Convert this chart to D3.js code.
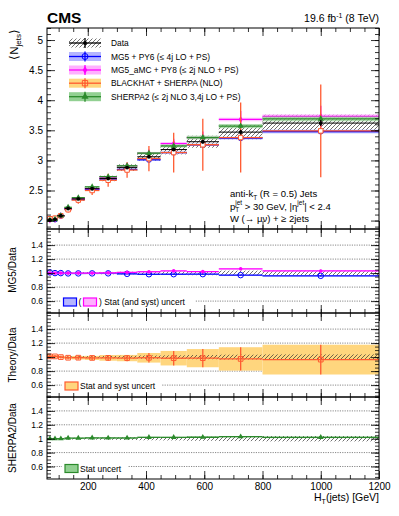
<!DOCTYPE html>
<html>
<head>
<meta charset="utf-8">
<script src="https://cdnjs.cloudflare.com/ajax/libs/d3/7.8.5/d3.min.js"></script>
<style>
  body { margin: 0; background: #fff; }
  text { font-family: "Liberation Sans", Arial, sans-serif; fill: #000; }
</style>
</head>
<body>
<div id="chart"></div>
<script>
// HT(jets) bins [GeV]
const binEdges = [60, 80, 95, 120, 145, 190, 240, 300, 370, 450, 540, 650, 800, 1200];

// measured <N_jets>
const dataMean = [2.01, 2.02, 2.08, 2.20, 2.36, 2.53, 2.70, 2.88, 3.06, 3.18, 3.31, 3.47, 3.62];
const dataStat = [0.005, 0.005, 0.005, 0.005, 0.006, 0.007, 0.009, 0.012, 0.016, 0.022, 0.03, 0.04, 0.05];
const dataSyst = [0.02, 0.02, 0.02, 0.025, 0.03, 0.035, 0.045, 0.055, 0.07, 0.08, 0.10, 0.12, 0.14];

// predictions
const mg5Mean = [2.03, 2.02, 2.08, 2.19, 2.35, 2.52, 2.69, 2.85, 3.01, 3.13, 3.26, 3.37, 3.48];
const mg5Err = [0.005, 0.005, 0.005, 0.006, 0.006, 0.007, 0.008, 0.01, 0.012, 0.015, 0.018, 0.022, 0.03];
const amcMean = [2.01, 2.02, 2.08, 2.20, 2.36, 2.53, 2.71, 2.91, 3.12, 3.28, 3.38, 3.68, 3.73];
const amcBandErr = [0.006, 0.006, 0.006, 0.007, 0.008, 0.009, 0.01, 0.012, 0.015, 0.02, 0.025, 0.03, 0.035];
const amcErr = [0.01, 0.01, 0.01, 0.015, 0.02, 0.025, 0.03, 0.04, 0.06, 0.08, 0.10, 0.14, 0.18];
const bhMean = [2.03, 2.04, 2.08, 2.18, 2.34, 2.50, 2.67, 2.84, 3.03, 3.13, 3.26, 3.38, 3.49];
const bhErr = [0.04, 0.04, 0.04, 0.045, 0.06, 0.075, 0.11, 0.13, 0.21, 0.33, 0.43, 0.58, 0.77];
const sherpaMean = [2.01, 2.02, 2.08, 2.22, 2.38, 2.56, 2.73, 2.91, 3.12, 3.24, 3.38, 3.57, 3.69];
const sherpaErr = [0.005, 0.005, 0.006, 0.007, 0.008, 0.01, 0.012, 0.015, 0.02, 0.025, 0.03, 0.035, 0.04];

const legendLabels = ["Data", "MG5 + PY6 (\u2264 4j LO + PS)", "MG5_aMC + PY8 (\u2264 2j NLO + PS)",
    "BLACKHAT + SHERPA (NLO)", "SHERPA2 (\u2264 2j NLO 3,4j LO + PS)"];
const xTicks = [200, 400, 600, 800, 1000, 1200];
const mainTicks = [2, 2.5, 3, 3.5, 4, 4.5, 5];
const ratioTicks = [0.6, 0.8, 1, 1.2, 1.4];

const blue = "#0000ff", blueBand = "#b4b4ff";
const mag = "#ff00ff", magBand = "#ffb0ff";
const orange = "#ff5a30", orangeBand = "#ffd67e";
const green = "#2b8a2b", greenBand = "#92d092";

const W = 399, H = 516;
const xLeft = 47, xRight = 379;

let svg = d3.select("#chart").append("svg").attr("width", W).attr("height", H);

let defs = svg.append("defs");
defs.append("pattern").attr("id", "hatch")
    .attr("patternUnits", "userSpaceOnUse").attr("width", 4).attr("height", 4)
    .append("path").attr("d", "M-1,1 l2,-2 M0,4 l4,-4 M3,5 l2,-2")
    .attr("stroke", "#333").attr("stroke-width", 0.7);
defs.append("clipPath").attr("id", "plotclip").append("rect")
    .attr("x", xLeft).attr("y", 0).attr("width", xRight - xLeft).attr("height", H);

let x = d3.scaleLinear().domain([60, 1200]).range([xLeft, xRight]);

let bins = binEdges.slice(0, -1).map(function (lo, i) {
    return { lo: lo, hi: binEdges[i + 1], c: (lo + binEdges[i + 1]) / 2, i: i };
});

function symbol(type, size) {
    return d3.symbol().type(type).size(size)();
}

function drawPanel(top, bottom, yDomain, major, minor, showX) {
    let y = d3.scaleLinear().domain(yDomain).range([bottom, top]);
    let g = svg.append("g");
    let axes = svg.append("g").attr("class", "axes");

    let xMinor = d3.range(100, 1200, 50);

    function clean(sel) {
        sel.select(".domain").remove();
        sel.selectAll("line").attr("stroke", "#000").attr("stroke-width", 0.8);
    }

    axes.append("g").attr("transform", "translate(" + xLeft + ",0)")
        .call(d3.axisLeft(y).tickValues(major).tickSize(-8).tickPadding(4).tickFormat(d3.format("~g")))
        .call(clean)
        .selectAll("text").attr("font-size", showX === "main" ? 10 : 8.5)
        .attr("font-family", "Liberation Sans, Arial, sans-serif");
    axes.append("g").attr("transform", "translate(" + xLeft + ",0)")
        .call(d3.axisLeft(y).tickValues(minor).tickSize(-4).tickFormat(""))
        .call(clean);
    axes.append("g").attr("transform", "translate(" + xRight + ",0)")
        .call(d3.axisRight(y).tickValues(major).tickSize(-8).tickFormat(""))
        .call(clean);
    axes.append("g").attr("transform", "translate(" + xRight + ",0)")
        .call(d3.axisRight(y).tickValues(minor).tickSize(-4).tickFormat(""))
        .call(clean);

    let bottomAxis = axes.append("g").attr("transform", "translate(0," + bottom + ")")
        .call(d3.axisBottom(x).tickValues(xTicks).tickSize(-8).tickPadding(4)
            .tickFormat(showX === true ? d3.format("d") : ""))
        .call(clean);
    bottomAxis.selectAll("text").attr("font-size", 10)
        .attr("font-family", "Liberation Sans, Arial, sans-serif");
    axes.append("g").attr("transform", "translate(0," + bottom + ")")
        .call(d3.axisBottom(x).tickValues(xMinor).tickSize(-4).tickFormat(""))
        .call(clean);
    axes.append("g").attr("transform", "translate(0," + top + ")")
        .call(d3.axisTop(x).tickValues(xTicks).tickSize(-8).tickFormat(""))
        .call(clean);
    axes.append("g").attr("transform", "translate(0," + top + ")")
        .call(d3.axisTop(x).tickValues(xMinor).tickSize(-4).tickFormat(""))
        .call(clean);

    axes.append("rect").attr("x", xLeft).attr("y", top)
        .attr("width", xRight - xLeft).attr("height", bottom - top)
        .attr("fill", "none").attr("stroke", "#000").attr("stroke-width", 1);

    return { g: g, y: y };
}

// band + horizontal line + error bar + marker for one series
function drawSeries(g, y, vals, errs, st) {
    let s = g.append("g").attr("clip-path", "url(#plotclip)");
    if (st.band) {
        s.selectAll(null).data(bins).enter().append("rect")
            .attr("x", function (d) { return x(d.lo); })
            .attr("width", function (d) { return x(d.hi) - x(d.lo); })
            .attr("y", function (d) { return y(vals[d.i] + errs[d.i]); })
            .attr("height", function (d) {
                return Math.max(1, y(vals[d.i] - errs[d.i]) - y(vals[d.i] + errs[d.i]));
            })
            .attr("fill", st.band).attr("opacity", st.bandOpacity || 1);
    }
    if (st.hatch) {
        s.selectAll(null).data(bins).enter().append("rect")
            .attr("x", function (d) { return x(d.lo); })
            .attr("width", function (d) { return x(d.hi) - x(d.lo); })
            .attr("y", function (d) { return y(vals[d.i] + errs[d.i]); })
            .attr("height", function (d) {
                return Math.max(1, y(vals[d.i] - errs[d.i]) - y(vals[d.i] + errs[d.i]));
            })
            .attr("fill", "url(#hatch)");
    }
    if (st.line) {
        s.selectAll(null).data(bins).enter().append("line")
            .attr("x1", function (d) { return x(d.lo); })
            .attr("x2", function (d) { return x(d.hi); })
            .attr("y1", function (d) { return y(vals[d.i]); })
            .attr("y2", function (d) { return y(vals[d.i]); })
            .attr("stroke", st.line).attr("stroke-width", st.lineWidth || 1.3);
    }
    if (st.bar) {
        let be = st.barErr || errs;
        s.selectAll(null).data(bins).enter().append("line")
            .attr("x1", function (d) { return x(d.c); })
            .attr("x2", function (d) { return x(d.c); })
            .attr("y1", function (d) { return y(vals[d.i] + be[d.i]); })
            .attr("y2", function (d) { return y(vals[d.i] - be[d.i]); })
            .attr("stroke", st.bar).attr("stroke-width", 1.3);
    }
    if (st.marker) {
        s.selectAll(null).data(bins).enter().append("path")
            .attr("transform", function (d) {
                return "translate(" + x(d.c) + "," + y(vals[d.i]) + ")";
            })
            .attr("d", symbol(st.marker, st.markerSize || 18))
            .attr("fill", st.markerFill).attr("stroke", st.markerStroke || "none")
            .attr("stroke-width", 1);
    }
}

// ---------- main panel ----------
let main = drawPanel(28, 229, [1.86, 5.2], mainTicks, d3.range(1.9, 5.21, 0.1), "main");

drawSeries(main.g, main.y, dataMean, dataSyst, { hatch: true });
drawSeries(main.g, main.y, mg5Mean, mg5Err, { band: blueBand, line: blue, bar: blue, marker: d3.symbolCircle, markerSize: 20, markerFill: "#fff", markerStroke: blue });
drawSeries(main.g, main.y, amcMean, amcBandErr, { band: magBand, bandOpacity: 0.7, line: mag, bar: mag, barErr: amcErr, marker: d3.symbolDiamond, markerSize: 14, markerFill: mag });
drawSeries(main.g, main.y, bhMean, bhErr, { line: orange, bar: orange, marker: d3.symbolSquare, markerSize: 20, markerFill: "#fff", markerStroke: orange });
drawSeries(main.g, main.y, sherpaMean, sherpaErr, { band: greenBand, bandOpacity: 0.7, line: green, bar: green, marker: d3.symbolTriangle, markerSize: 16, markerFill: green });
drawSeries(main.g, main.y, dataMean, dataStat, { line: "#000", lineWidth: 1, bar: "#000", marker: d3.symbolCircle, markerSize: 12, markerFill: "#000" });

// legend
let legend = svg.append("g");
let legendRows = [43, 56.5, 70, 83.2, 96.7];
let legendStyles = [
    { hatch: true, line: "#000", marker: d3.symbolCircle, size: 12, fill: "#000", stroke: "none" },
    { band: blueBand, line: blue, marker: d3.symbolCircle, size: 28, fill: "none", stroke: blue },
    { band: magBand, line: mag, marker: d3.symbolDiamond, size: 18, fill: mag, stroke: "none" },
    { band: orangeBand, line: orange, marker: d3.symbolSquare, size: 28, fill: "none", stroke: orange },
    { band: greenBand, line: green, marker: d3.symbolTriangle, size: 22, fill: green, stroke: "none" }
];
legendLabels.forEach(function (lab, i) {
    let st = legendStyles[i];
    let row = legend.append("g").attr("transform", "translate(0," + legendRows[i] + ")");
    row.append("rect").attr("x", 69).attr("y", -4.5).attr("width", 32).attr("height", 9)
        .attr("fill", st.hatch ? "url(#hatch)" : st.band);
    row.append("line").attr("x1", 69).attr("x2", 101).attr("y1", 0).attr("y2", 0)
        .attr("stroke", st.line).attr("stroke-width", 1.3);
    row.append("line").attr("x1", 85).attr("x2", 85).attr("y1", -5).attr("y2", 5)
        .attr("stroke", st.line).attr("stroke-width", 1.3);
    row.append("path").attr("transform", "translate(85,0)")
        .attr("d", symbol(st.marker, st.size))
        .attr("fill", st.fill).attr("stroke", st.stroke).attr("stroke-width", 1);
    row.append("text").attr("x", 111).attr("y", 3.2).attr("font-size", 8.4).text(lab);
});

// labels
svg.append("text").attr("x", 47).attr("y", 23).attr("font-size", 15.5)
    .attr("font-weight", "bold").text("CMS");
let lumi = svg.append("text").attr("x", 379).attr("y", 22).attr("font-size", 10.5)
    .attr("text-anchor", "end");
lumi.append("tspan").text("19.6 fb");
lumi.append("tspan").attr("dy", -4).attr("font-size", 7).text("-1");
lumi.append("tspan").attr("dy", 4).text(" (8 TeV)");

let ann = svg.append("g").attr("font-size", 9.5);
let a1 = ann.append("text").attr("x", 230).attr("y", 197);
a1.append("tspan").text("anti-k");
a1.append("tspan").attr("dy", 2.5).attr("font-size", 6.5).text("T");
a1.append("tspan").attr("dy", -2.5).text(" (R = 0.5) Jets");
let a2 = ann.append("text").attr("x", 230).attr("y", 209.5);
a2.append("tspan").text("p");
a2.append("tspan").attr("dy", 2.5).attr("font-size", 6.5).text("T");
a2.append("tspan").attr("dy", -7).attr("dx", -4).attr("font-size", 6.5).text("jet");
a2.append("tspan").attr("dy", 4.5).text(" > 30 GeV, |\u03b7");
a2.append("tspan").attr("dy", -4.5).attr("font-size", 6.5).text("jet");
a2.append("tspan").attr("dy", 4.5).text("| < 2.4");
ann.append("text").attr("x", 230).attr("y", 222).text("W (\u2192 \u03bc\u03bd) + \u2265 2jets");

// y title main
let yt = svg.append("text").attr("transform", "translate(18,29) rotate(-90)")
    .attr("text-anchor", "end").attr("font-size", 11.5);
yt.append("tspan").text("\u27e8N");
yt.append("tspan").attr("dy", 3).attr("font-size", 8).text("jets");
yt.append("tspan").attr("dy", -3).text("\u27e9");

// ---------- ratio panels ----------
function ratio(a, b) {
    return a.map(function (v, i) { return v / b[i]; });
}
let ones = dataMean.map(function () { return 1; });
let dataRel = ratio(dataSyst, dataMean);

function grid(p) {
    p.g.selectAll(null).data([0.6, 0.8, 1.2, 1.4]).enter().append("line")
        .attr("x1", xLeft).attr("x2", xRight)
        .attr("y1", function (d) { return p.y(d); })
        .attr("y2", function (d) { return p.y(d); })
        .attr("stroke", "#888").attr("stroke-width", 1).attr("stroke-dasharray", "1.2,1.2");
}

function ratioTitle(txt, cy) {
    svg.append("text").attr("transform", "translate(15.5," + cy + ") rotate(-90)")
        .attr("text-anchor", "middle").attr("font-size", 10).text(txt);
}

let rMinor = d3.range(0.45, 1.62, 0.05);

// MG5 / Data
let p1 = drawPanel(229, 313, [0.43, 1.63], ratioTicks, rMinor, false);
grid(p1);
drawSeries(p1.g, p1.y, ones, dataRel, { hatch: true });
drawSeries(p1.g, p1.y, ratio(mg5Mean, dataMean), ratio(mg5Err, dataMean), { band: blueBand, line: blue, bar: blue, marker: d3.symbolCircle, markerSize: 24, markerFill: "none", markerStroke: blue });
drawSeries(p1.g, p1.y, ratio(amcMean, dataMean), ratio(amcBandErr, dataMean), { band: magBand, bandOpacity: 0.7, line: mag, bar: mag, barErr: ratio(amcErr, dataMean).map(function (v) { return v / 3; }), marker: d3.symbolCircle, markerSize: 10, markerFill: mag });
ratioTitle("MG5/Data", 270);

let l1 = svg.append("g").attr("transform", "translate(0,302)");
l1.append("rect").attr("x", 61).attr("y", -6).attr("width", 134).attr("height", 12).attr("fill", "#fff");
l1.append("rect").attr("x", 63.5).attr("y", -4).attr("width", 13).attr("height", 8)
    .attr("fill", blueBand).attr("stroke", blue).attr("stroke-width", 1.2);
l1.append("text").attr("x", 78.5).attr("y", 3).attr("font-size", 8.5).text("(");
l1.append("rect").attr("x", 83.5).attr("y", -4).attr("width", 13).attr("height", 8)
    .attr("fill", magBand).attr("stroke", mag).attr("stroke-width", 1.2);
l1.append("text").attr("x", 99).attr("y", 3).attr("font-size", 8.5).text(") Stat (and syst) uncert");

// Theory / Data
let p2 = drawPanel(313, 397, [0.43, 1.63], ratioTicks, rMinor, false);
grid(p2);
drawSeries(p2.g, p2.y, ratio(bhMean, dataMean), ratio(bhErr, dataMean), { band: orangeBand });
drawSeries(p2.g, p2.y, ones, dataRel, { hatch: true });
drawSeries(p2.g, p2.y, ratio(bhMean, dataMean), ratio(bhErr, dataMean), { line: orange, bar: orange, marker: d3.symbolSquare, markerSize: 22, markerFill: "none", markerStroke: orange });
ratioTitle("Theory/Data", 355);

let l2 = svg.append("g").attr("transform", "translate(0,386)");
l2.append("rect").attr("x", 62).attr("y", -6).attr("width", 100).attr("height", 12).attr("fill", "#fff");
l2.append("rect").attr("x", 65).attr("y", -4).attr("width", 13).attr("height", 8)
    .attr("fill", orangeBand).attr("stroke", orange).attr("stroke-width", 1.2);
l2.append("text").attr("x", 80).attr("y", 3).attr("font-size", 8.5).text("Stat and syst uncert");

// SHERPA2 / Data
let p3 = drawPanel(397, 479, [0.42, 1.6], ratioTicks, rMinor, true);
grid(p3);
drawSeries(p3.g, p3.y, ratio(sherpaMean, dataMean), ratio(sherpaErr, dataMean), { band: greenBand });
drawSeries(p3.g, p3.y, ones, dataRel, { hatch: true });
drawSeries(p3.g, p3.y, ratio(sherpaMean, dataMean), ratio(sherpaErr, dataMean), { line: green, bar: green, marker: d3.symbolTriangle, markerSize: 14, markerFill: green });
ratioTitle("SHERPA2/Data", 438);

let l3 = svg.append("g").attr("transform", "translate(0,468.5)");
l3.append("rect").attr("x", 62).attr("y", -6).attr("width", 66).attr("height", 12).attr("fill", "#fff");
l3.append("rect").attr("x", 65).attr("y", -4).attr("width", 13).attr("height", 8)
    .attr("fill", greenBand).attr("stroke", green).attr("stroke-width", 1.2);
l3.append("text").attr("x", 80).attr("y", 3).attr("font-size", 8.5).text("Stat uncert");

// x title
let xt = svg.append("text").attr("x", 379).attr("y", 501).attr("text-anchor", "end").attr("font-size", 10.5);
xt.append("tspan").text("H");
xt.append("tspan").attr("dy", 2.5).attr("font-size", 7).text("T");
xt.append("tspan").attr("dy", -2.5).text("(jets) [GeV]");
</script>
</body>
</html>
